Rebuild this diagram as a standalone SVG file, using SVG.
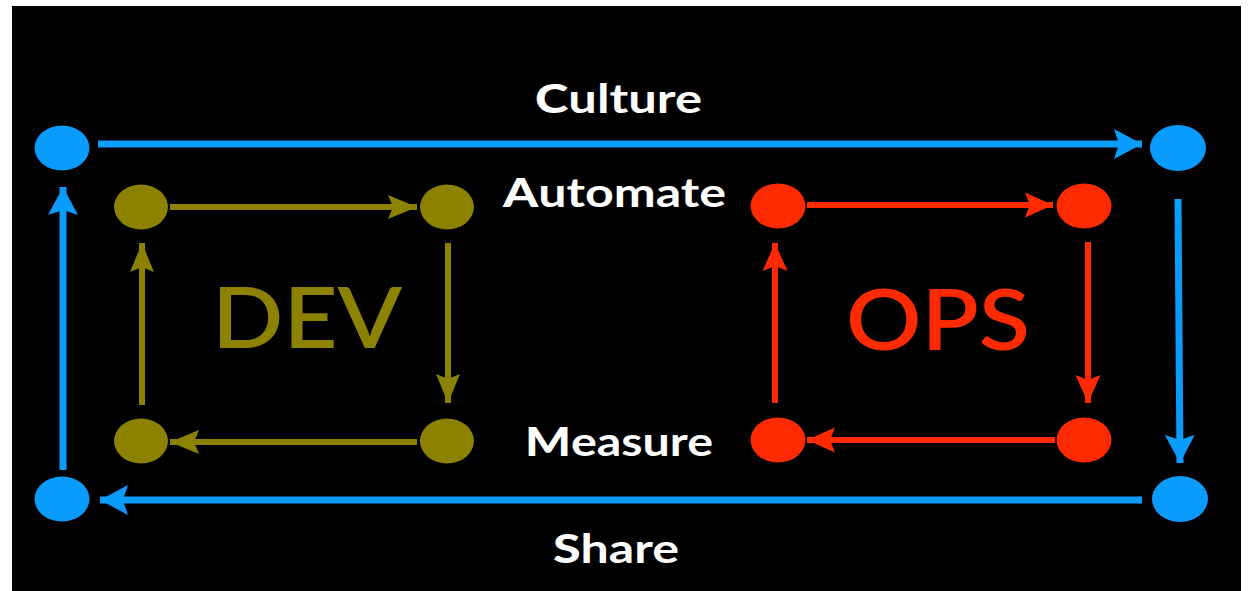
<svg xmlns="http://www.w3.org/2000/svg" width="1253" height="591" viewBox="0 0 1253 591">
<defs>
<style>
.blue{fill:#0a9bff}
.olive{fill:#8c8200}
.red{fill:#ff2a00}
.lb{stroke:#0a9bff;stroke-width:7;fill:none}
.lo{stroke:#8c8200;stroke-width:6;fill:none}
.lr{stroke:#ff2a00;stroke-width:6;fill:none}
.lab{font-family:Lato,"Liberation Sans",sans-serif;font-weight:700;font-size:40px;fill:#ffffff}
.lab .first{font-weight:900}
.big{font-family:Lato,"Liberation Sans",sans-serif;font-weight:600;font-size:85px}
</style>
<marker id="ab" markerUnits="userSpaceOnUse" viewBox="0 -16 30 32" markerWidth="30" markerHeight="32" refX="28" refY="0" orient="auto">
<path d="M0,-15 L28,0 L0,15 L5,0 Z" fill="#0a9bff"/>
</marker>
<marker id="ao" markerUnits="userSpaceOnUse" viewBox="0 -13 30 26" markerWidth="30" markerHeight="26" refX="29" refY="0" orient="auto">
<path d="M0,-12 L29,0 L0,12 L5,0 Z" fill="#8c8200"/>
</marker>
<marker id="ar" markerUnits="userSpaceOnUse" viewBox="0 -13 30 26" markerWidth="30" markerHeight="26" refX="28" refY="0" orient="auto">
<path d="M0,-12.5 L28,0 L0,12.5 L5,0 Z" fill="#ff2a00"/>
</marker>
</defs>
<rect x="0" y="0" width="1253" height="591" fill="#ffffff"/>
<rect x="12" y="6" width="1229" height="585" fill="#000000"/>

<g id="connectors">
<line class="lb" x1="98" y1="144" x2="1142" y2="144" marker-end="url(#ab)"/>
<line class="lb" x1="1178" y1="199" x2="1180" y2="463" marker-end="url(#ab)"/>
<line class="lb" x1="1142" y1="500" x2="100" y2="500" marker-end="url(#ab)"/>
<line class="lb" x1="63" y1="470" x2="63" y2="187" marker-end="url(#ab)"/>
<line class="lo" x1="170" y1="207" x2="417" y2="207" marker-end="url(#ao)"/>
<line class="lo" x1="448" y1="243" x2="448" y2="403" marker-end="url(#ao)"/>
<line class="lo" x1="417" y1="442" x2="170" y2="442" marker-end="url(#ao)"/>
<line class="lo" x1="142" y1="405" x2="142" y2="243" marker-end="url(#ao)"/>
<line class="lr" x1="807" y1="205" x2="1053" y2="205" marker-end="url(#ar)"/>
<line class="lr" x1="1088" y1="242" x2="1088" y2="403" marker-end="url(#ar)"/>
<line class="lr" x1="1055" y1="440" x2="807" y2="440" marker-end="url(#ar)"/>
<line class="lr" x1="775" y1="403" x2="775" y2="243" marker-end="url(#ar)"/>
</g>

<g id="culture-tl"><ellipse class="blue" cx="62" cy="148" rx="27.5" ry="22.5"/></g>
<g id="culture-tr"><ellipse class="blue" cx="1178" cy="148" rx="28" ry="23"/></g>
<g id="share-br"><ellipse class="blue" cx="1180" cy="499" rx="28" ry="23"/></g>
<g id="share-bl"><ellipse class="blue" cx="62" cy="499" rx="27.5" ry="22.5"/></g>

<g id="dev-tl"><ellipse class="olive" cx="141" cy="207" rx="27" ry="22.5"/></g>
<g id="dev-tr"><ellipse class="olive" cx="447" cy="207" rx="27" ry="22.5"/></g>
<g id="dev-br"><ellipse class="olive" cx="447" cy="441" rx="27" ry="22.5"/></g>
<g id="dev-bl"><ellipse class="olive" cx="141" cy="441" rx="27" ry="22.5"/></g>

<g id="ops-tl"><ellipse class="red" cx="778" cy="206" rx="27.5" ry="22.5"/></g>
<g id="ops-tr"><ellipse class="red" cx="1084" cy="206" rx="27.5" ry="22.5"/></g>
<g id="ops-br"><ellipse class="red" cx="1084" cy="440" rx="27.5" ry="22.5"/></g>
<g id="ops-bl"><ellipse class="red" cx="778" cy="440" rx="27.5" ry="22.5"/></g>

<g id="dev-label"><text class="big olive" x="212" y="348" textLength="190" lengthAdjust="spacingAndGlyphs">DEV</text></g>
<g id="ops-label"><text class="big red" x="846" y="350" textLength="184" lengthAdjust="spacingAndGlyphs">OPS</text></g>

<g id="label-culture"><text class="lab" x="535" y="113" textLength="167" lengthAdjust="spacingAndGlyphs"><tspan class="first">C</tspan>ulture</text></g>
<g id="label-automate"><text class="lab" x="503" y="207" textLength="223" lengthAdjust="spacingAndGlyphs"><tspan class="first">A</tspan>utomate</text></g>
<g id="label-measure"><text class="lab" x="525" y="456" textLength="188" lengthAdjust="spacingAndGlyphs"><tspan class="first">M</tspan>easure</text></g>
<g id="label-share"><text class="lab" x="553" y="563" textLength="126" lengthAdjust="spacingAndGlyphs"><tspan class="first">S</tspan>hare</text></g>
</svg>
